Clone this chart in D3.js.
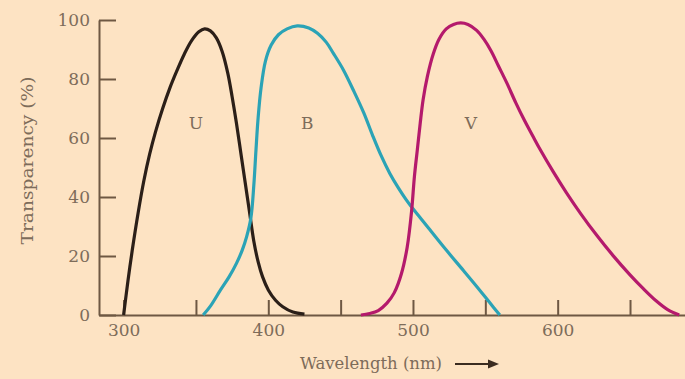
<!DOCTYPE html>
<html>
<head>
<meta charset="utf-8">
<script src="https://cdn.jsdelivr.net/npm/d3@7"></script>
<style>
  html, body { margin: 0; padding: 0; background: #fde3c3; }
  .container svg { display: block; }
  .axis text { font-family: 'DejaVu Serif', serif; font-size: 17px; fill: #7d6c5a; }
  .axis path, .axis line { stroke: #6e5843; stroke-width: 2; }
</style>
</head>
<body>
<div class="container"></div>
<script>
// wavelength (nm) / transparency (%)
const uWave = [300, 303, 306, 310, 314, 318, 322, 327, 332, 337, 342, 347, 352, 356, 360, 364, 368, 372, 375, 378, 381, 384, 387, 390, 393, 396, 400, 405, 410, 417, 425];
const uVals = [0, 11.5, 22, 34.5, 45.5, 54.5, 62, 70, 77, 83, 88.5, 93, 96, 97, 96.3, 94, 89.5, 82, 74, 65, 55, 45, 35, 25, 18, 13, 8.5, 5, 2.8, 1, 0.3];

const bWave = [355, 360, 367, 373, 378, 382, 385, 388, 390, 391.5, 393, 395, 398, 402, 407, 413, 420, 428, 434, 440, 445, 452, 459, 466, 472, 478, 484, 490, 495, 500, 505, 511, 523, 535, 546, 553, 560];
const bVals = [0, 3, 8.5, 13, 17.5, 22, 26.5, 33, 44, 56, 67, 77, 86, 91.5, 95, 97, 98, 97.3, 95.5, 92.5, 88.7, 83, 76, 68.5, 61, 54, 48, 43, 39.3, 36, 33, 29.3, 22, 15, 8.5, 4.2, 0];

const vWave = [464, 470, 476, 482, 487, 492, 496, 499, 501, 503, 505, 507, 510, 514, 518, 523, 528, 533, 538, 544, 549, 554, 559, 565, 571, 577, 583, 588, 597, 606, 616, 627, 638, 650, 659, 668, 676, 684];
const vVals = [0, 0.5, 1.5, 4, 7.5, 14, 23, 35, 47, 56, 65, 73, 81, 88.5, 93.5, 97, 98.5, 99, 98.5, 96.5, 93.5, 89.5, 84.5, 78.5, 72, 66, 60.5, 56, 48.5, 41.5, 34.3, 27, 20.3, 13.6, 9, 4.8, 1.8, 0];

const seriesNames = ['U', 'B', 'V'];
const labelWave = [350, 427, 540];
const labelVal = [63, 63, 63];
const colors = ['#2b1f18', '#2ba3b6', '#b41a6c'];

const xTicks = [300, 350, 400, 450, 500, 550, 600, 650];
const xLabels = [300, 400, 500, 600];
const yTicks = [0, 20, 40, 60, 80, 100];

const width = 685;
const height = 379;

const xScale = d3.scaleLinear().domain([283, 688]).range([99, 685]);
const yScale = d3.scaleLinear().domain([0, 100]).range([315, 20]);

const svg = d3.select('.container')
  .append('svg')
  .attr('width', width)
  .attr('height', height);

svg.append('rect')
  .attr('width', width)
  .attr('height', height)
  .attr('fill', '#fde3c3');

const xAxis = d3.axisBottom(xScale)
  .tickValues(xTicks)
  .tickSizeInner(-15)
  .tickSizeOuter(0)
  .tickPadding(9)
  .tickFormat(d => (xLabels.includes(d) ? d : ''));

const yAxis = d3.axisLeft(yScale)
  .tickValues(yTicks)
  .tickSizeInner(-17)
  .tickSizeOuter(0)
  .tickPadding(9);

svg.append('g')
  .attr('class', 'axis')
  .attr('transform', `translate(0, ${yScale(0)})`)
  .call(xAxis)
  .call(g => g.selectAll('.tick line').attr('stroke-width', 1.5));

svg.append('g')
  .attr('class', 'axis')
  .attr('transform', `translate(${xScale(283)}, 0)`)
  .call(yAxis)
  .call(g => g.selectAll('.tick line').attr('stroke-width', 2));

const line = d3.line()
  .x(d => xScale(d[0]))
  .y(d => yScale(d[1]))
  .curve(d3.curveCatmullRom.alpha(0.5));

const series = [
  d3.zip(uWave, uVals),
  d3.zip(bWave, bVals),
  d3.zip(vWave, vVals),
];

svg.append('g')
  .attr('class', 'lines')
  .selectAll('path')
  .data(series)
  .enter()
  .append('path')
  .attr('d', d => line(d))
  .attr('fill', 'none')
  .attr('stroke', (d, i) => colors[i])
  .attr('stroke-width', 3.2)
  .attr('stroke-linejoin', 'round');

svg.append('g')
  .attr('class', 'labels')
  .selectAll('text')
  .data(seriesNames)
  .enter()
  .append('text')
  .attr('x', (d, i) => xScale(labelWave[i]))
  .attr('y', (d, i) => yScale(labelVal[i]))
  .attr('text-anchor', 'middle')
  .attr('font-family', 'DejaVu Serif, serif')
  .attr('font-size', 17)
  .attr('fill', '#7d6c5a')
  .text(d => d);

svg.append('text')
  .attr('transform', `translate(33, ${(yScale(0) + yScale(100)) / 2 - 7}) rotate(-90)`)
  .attr('text-anchor', 'middle')
  .attr('font-family', 'DejaVu Serif, serif')
  .attr('font-size', 17)
  .attr('fill', '#7d6c5a')
  .attr('textLength', 168)
  .attr('lengthAdjust', 'spacingAndGlyphs')
  .text('Transparency (%)');

svg.append('text')
  .attr('x', 442)
  .attr('y', 369)
  .attr('text-anchor', 'end')
  .attr('font-family', 'DejaVu Serif, serif')
  .attr('font-size', 17)
  .attr('fill', '#7d6c5a')
  .attr('textLength', 142)
  .attr('lengthAdjust', 'spacingAndGlyphs')
  .text('Wavelength (nm)');

// arrow after the x title
svg.append('line')
  .attr('x1', 455)
  .attr('x2', 490)
  .attr('y1', 364)
  .attr('y2', 364)
  .attr('stroke', '#3b2c20')
  .attr('stroke-width', 2);

svg.append('path')
  .attr('d', 'M488,359.5 L499,364 L488,368.5 Z')
  .attr('fill', '#3b2c20');
</script>
</body>
</html>
